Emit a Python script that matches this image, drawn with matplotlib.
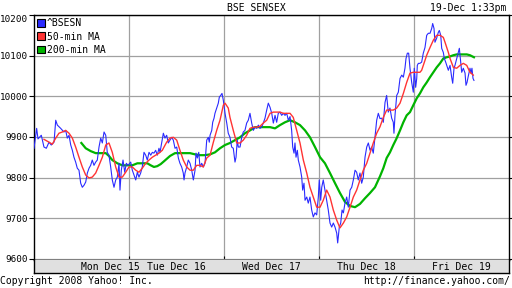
import matplotlib
matplotlib.use("Agg")
import matplotlib.pyplot as plt
from matplotlib.patches import Patch

# x = trading days since Monday open (one session = 1.0), y = index points
bsesn_t = [0.000, 0.028, 0.042, 0.077, 0.105, 0.130, 0.158, 0.182, 0.211, 0.229,
           0.246, 0.281, 0.316, 0.334, 0.351, 0.369, 0.387, 0.404, 0.421, 0.439,
           0.456, 0.474, 0.492, 0.509, 0.527, 0.545, 0.562, 0.580, 0.597, 0.614,
           0.632, 0.650, 0.667, 0.685, 0.703, 0.720, 0.738, 0.756, 0.772, 0.790,
           0.808, 0.825, 0.843, 0.861, 0.878, 0.896, 0.906, 0.920, 0.938, 0.956,
           0.973, 0.991, 1.019, 1.036, 1.054, 1.072, 1.089, 1.106, 1.124, 1.141,
           1.159, 1.177, 1.194, 1.212, 1.230, 1.247, 1.264, 1.282, 1.299, 1.317,
           1.328, 1.363, 1.380, 1.398, 1.415, 1.433, 1.451, 1.468, 1.486, 1.504,
           1.521, 1.538, 1.556, 1.573, 1.581, 1.591, 1.609, 1.626, 1.644, 1.662,
           1.679, 1.697, 1.707, 1.721, 1.736, 1.749, 1.767, 1.784, 1.802, 1.820,
           1.837, 1.847, 1.855, 1.873, 1.883, 1.897, 1.907, 1.925, 1.942, 1.953,
           1.967, 1.981, 1.995, 2.013, 2.031, 2.047, 2.065, 2.083, 2.100, 2.118,
           2.129, 2.142, 2.153, 2.171, 2.189, 2.205, 2.223, 2.241, 2.258, 2.276,
           2.294, 2.311, 2.329, 2.347, 2.364, 2.381, 2.399, 2.416, 2.434, 2.452,
           2.469, 2.487, 2.505, 2.522, 2.540, 2.557, 2.574, 2.592, 2.610, 2.627,
           2.645, 2.663, 2.680, 2.698, 2.715, 2.726, 2.740, 2.750, 2.761, 2.775,
           2.785, 2.803, 2.821, 2.831, 2.845, 2.856, 2.874, 2.890, 2.908, 2.926,
           2.943, 2.961, 2.979, 2.996, 3.006, 3.021, 3.032, 3.048, 3.066, 3.084,
           3.101, 3.119, 3.137, 3.154, 3.172, 3.190, 3.200, 3.217, 3.232, 3.246,
           3.260, 3.277, 3.295, 3.312, 3.330, 3.348, 3.365, 3.383, 3.400, 3.417,
           3.435, 3.453, 3.470, 3.488, 3.506, 3.523, 3.541, 3.558, 3.575, 3.593,
           3.611, 3.628, 3.646, 3.664, 3.681, 3.699, 3.716, 3.733, 3.751, 3.769,
           3.786, 3.793, 3.804, 3.822, 3.839, 3.857, 3.875, 3.892, 3.909, 3.920,
           3.934, 3.948, 3.962, 3.980, 3.997, 4.007, 4.022, 4.033, 4.039, 4.050,
           4.067, 4.085, 4.102, 4.120, 4.138, 4.155, 4.173, 4.191, 4.201, 4.215,
           4.225, 4.243, 4.260, 4.271, 4.286, 4.296, 4.313, 4.324, 4.338, 4.349,
           4.366, 4.384, 4.401, 4.412, 4.426, 4.436, 4.454, 4.471, 4.482, 4.496,
           4.507, 4.524, 4.542, 4.552, 4.563, 4.574, 4.594, 4.605, 4.615, 4.626,
           4.636]
bsesn_v = [9872, 9921, 9895, 9904, 9875, 9872, 9887, 9880, 9887, 9941,
           9929, 9921, 9912, 9916, 9897, 9904, 9880, 9867, 9850, 9838,
           9823, 9818, 9786, 9776, 9781, 9789, 9811, 9823, 9830, 9843,
           9830, 9838, 9843, 9875, 9897, 9885, 9912, 9904, 9862, 9855,
           9826, 9794, 9776, 9794, 9801, 9835, 9769, 9818, 9843, 9813,
           9835, 9830, 9838, 9818, 9806, 9794, 9813, 9801, 9811, 9826,
           9862, 9855, 9843, 9862, 9855, 9862, 9860, 9867, 9855, 9872,
           9862, 9909, 9897, 9904, 9885, 9892, 9899, 9892, 9872, 9875,
           9848, 9835, 9826, 9811, 9794, 9811, 9826, 9843, 9835, 9818,
           9794, 9818, 9860, 9848, 9862, 9826, 9835, 9826, 9835, 9892,
           9899, 9887, 9904, 9916, 9936, 9946, 9958, 9971, 9983, 9998,
           10002, 10007, 9990, 9958, 9934, 9909, 9899, 9875, 9872, 9838,
           9850, 9892, 9875, 9875, 9899, 9912, 9916, 9934, 9941, 9958,
           9934, 9916, 9924, 9921, 9929, 9921, 9924, 9934, 9946, 9966,
           9983, 9973, 9958, 9934, 9953, 9936, 9958, 9961, 9953, 9958,
           9953, 9958, 9941, 9950, 9916, 9875, 9860, 9885, 9850, 9867,
           9843, 9826, 9801, 9769, 9786, 9744, 9752, 9737, 9752, 9720,
           9703, 9713, 9708, 9752, 9794, 9744, 9776, 9794, 9769, 9744,
           9720, 9688, 9678, 9688, 9678, 9663, 9639, 9678, 9688, 9720,
           9713, 9737, 9752, 9727, 9769, 9776, 9794, 9818, 9813, 9794,
           9811, 9786, 9801, 9850, 9875, 9885, 9867, 9875, 9860, 9899,
           9941, 9958, 9945, 9946, 9936, 9985, 10002, 9961, 9971, 9946,
           9936, 9909, 9953, 10002, 10010, 10044, 10052, 10047, 10069, 10093,
           10106, 10106, 10069, 10034, 10010, 10069, 10022, 10044, 10076, 10081,
           10081, 10084, 10106, 10120, 10150, 10155, 10155, 10167, 10179, 10167,
           10133, 10143, 10157, 10162, 10150, 10118, 10108, 10093, 10084, 10076,
           10064, 10076, 10047, 10032, 10069, 10076, 10093, 10108, 10118, 10084,
           10059, 10069, 10057, 10027, 10034, 10047, 10069, 10057, 10069, 10044,
           10039]

ma50_t = [0.105, 0.158, 0.193, 0.229, 0.263, 0.298, 0.334, 0.369, 0.404, 0.439,
          0.474, 0.509, 0.545, 0.580, 0.614, 0.650, 0.685, 0.720, 0.756, 0.790,
          0.825, 0.861, 0.896, 0.931, 0.966, 1.001, 1.036, 1.072, 1.106, 1.141,
          1.177, 1.212, 1.247, 1.282, 1.317, 1.352, 1.363, 1.398, 1.433, 1.468,
          1.504, 1.538, 1.573, 1.609, 1.644, 1.679, 1.714, 1.749, 1.784, 1.820,
          1.855, 1.890, 1.925, 1.960, 1.995, 2.013, 2.047, 2.065, 2.100, 2.136,
          2.171, 2.205, 2.241, 2.276, 2.311, 2.347, 2.381, 2.416, 2.452, 2.487,
          2.522, 2.557, 2.592, 2.627, 2.663, 2.698, 2.732, 2.768, 2.803, 2.838,
          2.874, 2.908, 2.943, 2.979, 3.014, 3.048, 3.084, 3.119, 3.154, 3.190,
          3.224, 3.260, 3.295, 3.330, 3.365, 3.400, 3.435, 3.470, 3.506, 3.541,
          3.575, 3.611, 3.646, 3.681, 3.716, 3.751, 3.786, 3.822, 3.857, 3.892,
          3.927, 3.962, 3.997, 4.033, 4.067, 4.085, 4.102, 4.138, 4.173, 4.208,
          4.243, 4.278, 4.313, 4.331, 4.349, 4.366, 4.384, 4.419, 4.454, 4.489,
          4.524, 4.560, 4.594, 4.629]
ma50_v = [9894, 9887, 9882, 9897, 9909, 9912, 9916, 9909, 9897, 9875,
          9850, 9826, 9806, 9799, 9801, 9811, 9830, 9850, 9880, 9885,
          9862, 9826, 9801, 9801, 9813, 9826, 9826, 9818, 9813, 9823,
          9835, 9843, 9850, 9855, 9860, 9867, 9872, 9887, 9897, 9899,
          9892, 9867, 9843, 9826, 9818, 9818, 9830, 9830, 9826, 9848,
          9855, 9887, 9916, 9941, 9978, 9983, 9971, 9948, 9916, 9885,
          9885, 9892, 9904, 9921, 9924, 9924, 9926, 9934, 9941, 9958,
          9961, 9961, 9961, 9958, 9958, 9958, 9948, 9916, 9885, 9843,
          9811, 9776, 9752, 9727, 9727, 9744, 9769, 9752, 9720, 9695,
          9676, 9688, 9703, 9727, 9752, 9769, 9794, 9818, 9835, 9860,
          9885, 9909, 9925, 9948, 9966, 9966, 9966, 9971, 9983, 10007,
          10034, 10057, 10059, 10059, 10059, 10064, 10076, 10101, 10120, 10138,
          10150, 10150, 10145, 10133, 10120, 10108, 10093, 10071, 10069, 10076,
          10081, 10076, 10059, 10052]

ma200_t = [0.499, 0.545, 0.597, 0.650, 0.703, 0.756, 0.790, 0.825, 0.878, 0.931,
           0.983, 1.036, 1.089, 1.141, 1.194, 1.230, 1.264, 1.299, 1.335, 1.370,
           1.433, 1.486, 1.538, 1.591, 1.644, 1.697, 1.749, 1.802, 1.855, 1.907,
           1.960, 2.013, 2.065, 2.118, 2.171, 2.223, 2.276, 2.329, 2.381, 2.434,
           2.487, 2.540, 2.592, 2.645, 2.698, 2.750, 2.803, 2.856, 2.908, 2.961,
           3.014, 3.066, 3.119, 3.172, 3.224, 3.277, 3.330, 3.383, 3.435, 3.488,
           3.541, 3.593, 3.646, 3.681, 3.716, 3.751, 3.786, 3.822, 3.857, 3.892,
           3.927, 3.962, 3.997, 4.033, 4.067, 4.102, 4.138, 4.173, 4.208, 4.243,
           4.278, 4.313, 4.349, 4.384, 4.419, 4.454, 4.489, 4.524, 4.560, 4.594,
           4.636]
ma200_v = [9885, 9872, 9865, 9860, 9860, 9860, 9853, 9843, 9835, 9830,
           9830, 9830, 9835, 9835, 9835, 9830, 9826, 9828, 9833, 9840,
           9853, 9860, 9860, 9860, 9860, 9857, 9855, 9855, 9857, 9862,
           9872, 9880, 9885, 9892, 9899, 9909, 9916, 9924, 9924, 9924,
           9924, 9921, 9929, 9936, 9941, 9936, 9929, 9916, 9899, 9875,
           9850, 9835, 9811, 9786, 9762, 9740, 9730, 9727, 9735, 9749,
           9762, 9776, 9803, 9823, 9848, 9862, 9880, 9897, 9916, 9936,
           9953, 9961, 9978, 9995, 10007, 10022, 10034, 10047, 10059, 10071,
           10081, 10093, 10096, 10098, 10101, 10103, 10103, 10103, 10103, 10101,
           10096]

y_ticks = [9600, 9700, 9800, 9900, 10000, 10100, 10200]
day_labels = ["Mon Dec 15", "Tue Dec 16", "Wed Dec 17", "Thu Dec 18", "Fri Dec 19"]
day_label_pos = [0.80, 1.5, 2.5, 3.5, 4.5]
series_names = ["^BSESN", "50-min MA", "200-min MA"]
colors = ["#2a2aff", "#ff3333", "#00b400"]

plt.rcParams['font.family'] = 'DejaVu Sans Mono'
plt.rcParams['font.size'] = 7

fig = plt.figure(figsize=(5.12, 2.88), dpi=100)
ax = fig.add_axes([34 / 512, 1 - 260 / 288, 474.5 / 512, 245 / 288])
band = fig.add_axes([34 / 512, 1 - 273 / 288, 474.5 / 512, 13 / 288])

ax.plot(bsesn_t, bsesn_v, color=colors[0], lw=0.8, zorder=3)
ax.plot(ma50_t, ma50_v, color=colors[1], lw=1.0, zorder=4)
ax.plot(ma200_t, ma200_v, color=colors[2], lw=1.6, zorder=2)

ax.set_xlim(0, 5)
ax.set_ylim(9597, 10200)
ax.set_yticks(y_ticks)
ax.set_yticklabels([str(v) for v in y_ticks], fontsize=6.7)
ax.get_yticklabels()[-1].set_va('top')
ax.set_xticks([1, 2, 3, 4])
ax.tick_params(axis='x', direction='in', length=3, labelbottom=False)
ax.tick_params(axis='y', direction='out', length=3.5, pad=0.8, right=True)
ax.grid(True, color='#a0a0a0', lw=0.9)
ax.set_axisbelow(True)
for s in ax.spines.values():
    s.set_linewidth(1.0)
    s.set_color('black')

# legend in the top-left corner
handles = [Patch(facecolor=c, edgecolor='black', lw=0.8) for c in colors]
leg = ax.legend(handles, series_names, loc='upper left', bbox_to_anchor=(0, 1),
                borderaxespad=0.2, borderpad=0.15, handlelength=0.8, handleheight=0.8,
                handletextpad=0.2, labelspacing=0.32, frameon=True, fancybox=False,
                framealpha=1, facecolor='white', edgecolor='none')
leg.set_zorder(5)

# date band under the plot
band.set_facecolor('#e0e0e0')
band.set_xlim(0, 5)
band.set_ylim(0, 1)
band.set_xticks([])
band.set_yticks([])
band.spines['top'].set_visible(False)
for s in ['left', 'right', 'bottom']:
    band.spines[s].set_linewidth(1.0)
for pos, lab in zip(day_label_pos, day_labels):
    band.text(pos, 0.45, lab, ha='center', va='center')

fig.text(0.5, 1 - 8 / 288, "BSE SENSEX", ha='center', va='center')
fig.text(506 / 512, 1 - 8 / 288, "19-Dec 1:33pm", ha='right', va='center')
fig.text(0.0, 1 - 281 / 288, "Copyright 2008 Yahoo! Inc.", ha='left', va='center')
fig.text(510 / 512, 1 - 281 / 288, "http://finance.yahoo.com/", ha='right', va='center')

fig.savefig("out.png", dpi=100)
